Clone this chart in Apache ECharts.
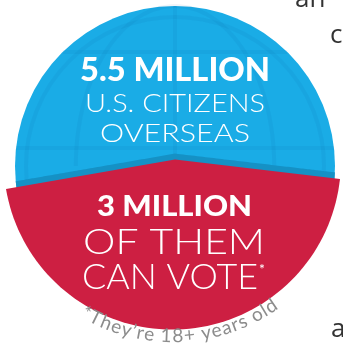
<!DOCTYPE html>
<html><head><meta charset="utf-8">
<script src="https://cdn.jsdelivr.net/npm/echarts@6/dist/echarts.min.js"></script>
<style>html,body{margin:0;padding:0;background:#fff;overflow:hidden}#c{width:343px;height:349px}</style>
</head><body><div id="c"></div>
<script>
// ---- data ----
const categories = ['U.S. citizens overseas', 'Eligible to vote'];
const valuesMillions = [5.5, 3];
const headlineLabels = ['5.5 MILLION', '3 MILLION'];
const subLabels = [['U.S. CITIZENS', 'OVERSEAS'], ['OF THEM', 'CAN VOTE']];
const footnote = '*They\u2019re 18+ years old';
const sideText = ['an', 'c', 'a'];

// ---- layout / style ----
const CX = 175, CY = 166, R = 160;
const RCX = 172.3, RCY = 161, RR = 168.6;
const BLUE = '#1aace6', BLUE_DARK = '#1591c5', RED = '#cd1f42', LINE = 'rgba(0,70,130,0.06)';
const FONT = 'Lato, "Open Sans", sans-serif';

const ctx = document.createElement('canvas').getContext('2d');
function measure(t, size, weight) { ctx.font = weight + ' ' + size + 'px ' + FONT; return ctx.measureText(t).width; }

function capFraction(d) {
  const a = R * R * Math.acos(d / R) - d * Math.sqrt(R * R - d * d);
  return a / (Math.PI * R * R);
}
function chordOffset(fLower) {
  let lo = -R + 1e-6, hi = R - 1e-6;
  for (let i = 0; i < 60; i++) {
    const m = (lo + hi) / 2;
    if (1 - capFraction(m) > fLower) hi = m; else lo = m;
  }
  return (lo + hi) / 2;
}
function flap(total, part) {
  const chordY = CY - chordOffset(part / total);
  return { P: [CX, chordY + 5], L: [6, chordY + 34.4], Rt: [340, chordY + 24.4] };
}
function chevY(f, x) {
  const { P, L, Rt } = f;
  if (x <= P[0]) return P[1] + (x - P[0]) * (L[1] - P[1]) / (L[0] - P[0]);
  return P[1] + (x - P[0]) * (Rt[1] - P[1]) / (Rt[0] - P[0]);
}

function renderItem(params, api) {
  const total = valuesMillions[0];
  const v = api.value(1);
  if (params.dataIndex === 0) {
    const rr = R * Math.sqrt(v / total);
    const ch = [{ type: 'circle', shape: { cx: CX, cy: CY, r: rr }, style: { fill: BLUE } }];
    ch.push({ type: 'circle', shape: { cx: CX, cy: CY, r: rr - 11 }, style: { fill: 'none', stroke: LINE, lineWidth: 4 } });
    [-0.62, 0, 0.62].forEach(k => {
      const pts = [];
      for (let t = 0; t <= Math.PI / 2 + 0.01; t += Math.PI / 60) pts.push([CX + k * rr * Math.sin(t), CY - rr * Math.cos(t)]);
      ch.push({ type: 'polyline', shape: { points: pts }, style: { stroke: LINE, lineWidth: 4, fill: 'none' } });
    });
    [52, 148].forEach(y => {
      const hw = Math.sqrt(rr * rr - (y - CY) * (y - CY));
      ch.push({ type: 'line', shape: { x1: CX - hw, y1: y, x2: CX + hw, y2: y }, style: { stroke: LINE, lineWidth: 4 } });
    });
    return { type: 'group', children: ch };
  }
  const f = flap(total, v);
  const band = [];
  for (let a = 0; a < 360; a += 1) {
    const t = a * Math.PI / 180;
    const x = CX + R * Math.cos(t), y = CY + R * Math.sin(t);
    let yy = y;
    if (y < CY) {
      const dx = x - CX;
      const lowY = CY + Math.sqrt(Math.max(0, R * R - dx * dx));
      yy = Math.min(Math.max(y, chevY(f, x) - 6), lowY);
    }
    band.push([x, yy]);
  }
  const red = [f.L, f.P, f.Rt];
  const aR = Math.atan2(f.Rt[1] - RCY, f.Rt[0] - RCX);
  const aL = Math.atan2(f.L[1] - RCY, f.L[0] - RCX);
  for (let i = 1; i < 80; i++) {
    const t = aR + (aL - aR) * i / 80;
    red.push([RCX + RR * Math.cos(t), RCY + RR * Math.sin(t)]);
  }
  return {
    type: 'group', children: [
      { type: 'polygon', shape: { points: band }, style: { fill: BLUE_DARK } },
      { type: 'polygon', shape: { points: red }, style: { fill: RED } }
    ]
  };
}

// ---- text ----
const textLayout = [
  { text: headlineLabels[0], x: 175, y: 68.5, size: 32, weight: 900, width: 190 },
  { text: subLabels[0][0], x: 175, y: 102.5, size: 26, weight: 300, width: 180 },
  { text: subLabels[0][1], x: 175, y: 132.5, size: 26, weight: 300, width: 150 },
  { text: headlineLabels[1], x: 174.5, y: 205, size: 28, weight: 900, width: 155 },
  { text: subLabels[1][0], x: 174, y: 240, size: 36, weight: 300, width: 182 },
  { text: subLabels[1][1], x: 170, y: 275.5, size: 35, weight: 300, width: 176 }
];
const graphics = textLayout.map(t => ({
  type: 'text', x: t.x, y: t.y + 0.06 * t.size,
  scaleX: t.width / measure(t.text, t.size, t.weight),
  style: { text: t.text, fill: '#fff', font: t.weight + ' ' + t.size + 'px ' + FONT, align: 'center', verticalAlign: 'middle' },
  z: 10
}));
graphics.push({ type: 'text', x: 262, y: 269, style: { text: '*', fill: '#fff', font: '400 14px ' + FONT, align: 'center', verticalAlign: 'middle' }, z: 10 });

// curved footnote
(function () {
  const fs = 19, w = '400', rho = 176, fc = [173, 160];
  const chars = Array.from(footnote);
  const widths = chars.map(c => measure(c, fs, w));
  const W = widths.reduce((a, b) => a + b, 0);
  const phi0 = -30.8 * Math.PI / 180, phi1 = 35.6 * Math.PI / 180;
  const S = rho * (phi1 - phi0);
  const sp = (S - W) / (chars.length - 1);
  let s = 0;
  chars.forEach((c, i) => {
    const mid = s + widths[i] / 2;
    const phi = phi0 + mid / rho;
    graphics.push({
      type: 'text', x: fc[0] + rho * Math.sin(phi), y: fc[1] + rho * Math.cos(phi), rotation: phi,
      style: { text: c, fill: '#8c8c8c', font: w + ' ' + fs + 'px ' + FONT, align: 'center', verticalAlign: 'middle' }, z: 10
    });
    s += widths[i] + sp;
  });
})();

// article text fragments at the right edge
const sidePos = [[295, 7], [330, 43], [331, 337]];
sideText.forEach((t, i) => graphics.push({
  type: 'text', x: sidePos[i][0], y: sidePos[i][1] + 6,
  style: { text: t, fill: '#333', font: '400 26px "Open Sans", sans-serif', align: 'left', verticalAlign: 'bottom' }, z: 10
}));

const chart = echarts.init(document.getElementById('c'), null, { renderer: 'canvas' });
chart.setOption({
  animation: false,
  series: [{
    type: 'custom', coordinateSystem: 'none', name: 'citizens',
    data: valuesMillions.map((v, i) => [i, v]),
    renderItem: renderItem
  }],
  graphic: graphics
});
</script>
</body></html>
